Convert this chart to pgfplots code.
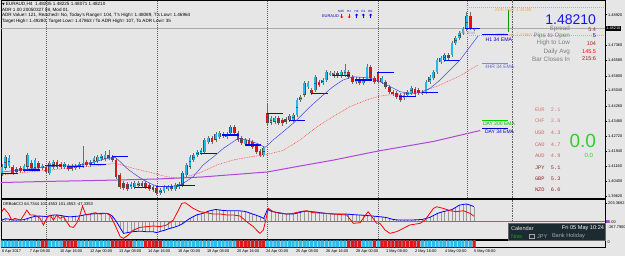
\documentclass[border=0pt]{standalone}
\usepackage{fontspec}
\setmainfont{Liberation Sans}
\newfontfamily\dejavu{DejaVu Sans}
\newfontfamily\monof{Liberation Mono}
\usepackage{pgfplots}
\usepackage{pgfplotstable}
\pgfplotsset{compat=1.18}
\usetikzlibrary{arrows.meta}
\newcommand{\fs}[1]{\fontsize{#1}{#1}\selectfont}
\definecolor{bgc}{RGB}{230,230,230}
\definecolor{bull}{RGB}{30,185,240}
\definecolor{bear}{RGB}{230,20,20}
\definecolor{wick}{RGB}{110,110,110}
\definecolor{emaone}{RGB}{70,70,225}
\definecolor{emafour}{RGB}{255,80,80}
\definecolor{dayema}{RGB}{175,70,215}
\definecolor{dayopen}{RGB}{0,0,255}
\definecolor{adrc}{RGB}{240,170,70}
\definecolor{calbg}{RGB}{28,42,50}
\definecolor{sepc}{RGB}{95,95,95}
\definecolor{lblgray}{RGB}{125,125,125}
\definecolor{rowcyan}{RGB}{40,190,240}
\definecolor{limeg}{RGB}{50,205,50}
\definecolor{hstart}{RGB}{140,160,190}
\definecolor{fourlbl}{RGB}{100,100,230}
\definecolor{fourline}{RGB}{130,130,255}
\definecolor{bigblue}{RGB}{20,20,235}
\definecolor{vspread}{RGB}{160,50,50}
\definecolor{vhl}{RGB}{180,30,30}
\definecolor{vbar}{RGB}{150,30,30}
\definecolor{curA}{RGB}{215,120,120}
\definecolor{curB}{RGB}{205,100,100}
\definecolor{curD}{RGB}{140,40,40}

\pgfplotstableread{
i o h l c
0 1.4083 1.4129 1.4068 1.4114
1 1.4109 1.4175 1.4098 1.4165
2 1.4119 1.4175 1.4109 1.4160
3 1.4114 1.4124 1.4073 1.4083
4 1.4103 1.4114 1.4078 1.4088
5 1.4109 1.4119 1.4083 1.4093
6 1.4098 1.4129 1.4088 1.4119
7 1.4114 1.4185 1.4103 1.4175
8 1.4134 1.4149 1.4098 1.4109
9 1.4109 1.4160 1.4098 1.4149
10 1.4134 1.4144 1.4098 1.4109
11 1.4109 1.4129 1.4098 1.4119
12 1.4114 1.4124 1.4078 1.4088
13 1.4083 1.4144 1.4073 1.4134
14 1.4114 1.4149 1.4103 1.4139
15 1.4139 1.4149 1.4103 1.4114
16 1.4129 1.4139 1.4103 1.4114
17 1.4114 1.4139 1.4103 1.4129
18 1.4119 1.4129 1.4093 1.4103
19 1.4119 1.4129 1.4093 1.4103
20 1.4109 1.4129 1.4098 1.4119
21 1.4114 1.4139 1.4103 1.4129
22 1.4119 1.4221 1.4109 1.4134
23 1.4139 1.4149 1.4114 1.4124
24 1.4124 1.4149 1.4114 1.4139
25 1.4134 1.4170 1.4124 1.4160
26 1.4144 1.4175 1.4134 1.4165
27 1.4155 1.4180 1.4144 1.4170
28 1.4155 1.4195 1.4144 1.4175
29 1.4175 1.4201 1.4149 1.4160
30 1.4165 1.4175 1.4139 1.4149
31 1.4149 1.4160 1.4052 1.4063
32 1.4073 1.4083 1.4001 1.4011
33 1.4032 1.4042 1.3996 1.4006
34 1.4027 1.4037 1.3991 1.4001
35 1.4011 1.4037 1.4001 1.4027
36 1.4011 1.4042 1.4001 1.4032
37 1.4017 1.4042 1.4006 1.4032
38 1.4032 1.4042 1.4006 1.4017
39 1.4032 1.4042 1.4001 1.4011
40 1.4022 1.4032 1.3991 1.4001
41 1.4011 1.4022 1.3986 1.3996
42 1.4006 1.4017 1.3971 1.3981
43 1.3981 1.4006 1.3971 1.3996
44 1.3991 1.4022 1.3981 1.4011
45 1.4001 1.4022 1.3991 1.4011
46 1.4017 1.4027 1.3991 1.4001
47 1.4001 1.4032 1.3991 1.4022
48 1.4011 1.4037 1.4001 1.4027
49 1.4022 1.4093 1.4011 1.4083
50 1.4073 1.4134 1.4063 1.4124
51 1.4114 1.4175 1.4103 1.4165
52 1.4149 1.4185 1.4139 1.4175
53 1.4175 1.4201 1.4165 1.4190
54 1.4185 1.4211 1.4175 1.4201
55 1.4190 1.4262 1.4180 1.4252
56 1.4241 1.4272 1.4231 1.4262
57 1.4262 1.4272 1.4231 1.4241
58 1.4252 1.4292 1.4241 1.4282
59 1.4267 1.4298 1.4257 1.4287
60 1.4282 1.4292 1.4262 1.4272
61 1.4267 1.4292 1.4257 1.4282
62 1.4287 1.4328 1.4277 1.4318
63 1.4318 1.4328 1.4277 1.4287
64 1.4287 1.4298 1.4241 1.4252
65 1.4262 1.4272 1.4226 1.4236
66 1.4231 1.4262 1.4221 1.4252
67 1.4252 1.4262 1.4221 1.4231
68 1.4241 1.4252 1.4206 1.4216
69 1.4221 1.4231 1.4180 1.4190
70 1.4195 1.4206 1.4165 1.4175
71 1.4175 1.4221 1.4165 1.4211
72 1.4390 1.4441 1.4328 1.4339
73 1.4339 1.4374 1.4328 1.4364
74 1.4344 1.4374 1.4333 1.4364
75 1.4364 1.4374 1.4328 1.4339
76 1.4354 1.4364 1.4323 1.4339
77 1.4359 1.4369 1.4333 1.4344
78 1.4354 1.4384 1.4344 1.4374
79 1.4354 1.4390 1.4344 1.4379
80 1.4379 1.4466 1.4369 1.4456
81 1.4456 1.4482 1.4446 1.4471
82 1.4482 1.4553 1.4471 1.4543
83 1.4522 1.4553 1.4512 1.4543
84 1.4507 1.4517 1.4482 1.4492
85 1.4507 1.4584 1.4497 1.4574
86 1.4548 1.4558 1.4522 1.4533
87 1.4543 1.4568 1.4533 1.4558
88 1.4558 1.4609 1.4548 1.4599
89 1.4589 1.4604 1.4579 1.4594
90 1.4579 1.4604 1.4568 1.4594
91 1.4594 1.4604 1.4568 1.4579
92 1.4579 1.4609 1.4568 1.4599
93 1.4584 1.4640 1.4574 1.4609
94 1.4599 1.4609 1.4563 1.4574
95 1.4574 1.4584 1.4538 1.4548
96 1.4548 1.4574 1.4538 1.4563
97 1.4563 1.4574 1.4533 1.4543
98 1.4543 1.4574 1.4533 1.4563
99 1.4563 1.4640 1.4553 1.4625
100 1.4625 1.4635 1.4558 1.4568
101 1.4568 1.4579 1.4538 1.4548
102 1.4594 1.4604 1.4538 1.4548
103 1.4548 1.4579 1.4538 1.4568
104 1.4548 1.4558 1.4512 1.4522
105 1.4522 1.4533 1.4487 1.4497
106 1.4497 1.4507 1.4476 1.4487
107 1.4492 1.4502 1.4461 1.4471
108 1.4482 1.4492 1.4446 1.4456
109 1.4466 1.4492 1.4456 1.4482
110 1.4482 1.4507 1.4471 1.4497
111 1.4492 1.4528 1.4482 1.4517
112 1.4512 1.4522 1.4476 1.4487
113 1.4507 1.4517 1.4482 1.4492
114 1.4492 1.4507 1.4482 1.4497
115 1.4497 1.4558 1.4487 1.4548
116 1.4548 1.4584 1.4538 1.4574
117 1.4568 1.4609 1.4558 1.4599
118 1.4599 1.4671 1.4589 1.4660
119 1.4650 1.4681 1.4640 1.4671
120 1.4660 1.4696 1.4650 1.4686
121 1.4686 1.4696 1.4660 1.4671
122 1.4686 1.4758 1.4676 1.4747
123 1.4747 1.4783 1.4737 1.4773
124 1.4773 1.4809 1.4763 1.4798
125 1.4798 1.4829 1.4788 1.4819
126 1.4819 1.4906 1.4809 1.4885
127 1.4885 1.4906 1.4814 1.4824
128 1.48205 1.48225 1.48071 1.48210
}\candles

\pgfplotstableread{
x y
-0.2 1.4078
4.3 1.4078
nan nan
5.8 1.4098
10.3 1.4098
nan nan
11.8 1.4119
16.3 1.4119
nan nan
17.8 1.4115
22.3 1.4115
nan nan
23.8 1.4127
28.3 1.4127
nan nan
29.8 1.4166
34.3 1.4166
nan nan
35.8 1.4010
40.3 1.4010
nan nan
41.8 1.4013
46.3 1.4013
nan nan
47.8 1.4018
52.3 1.4018
nan nan
53.8 1.4182
58.3 1.4182
nan nan
59.8 1.4277
64.3 1.4277
nan nan
65.8 1.4226
70.3 1.4226
nan nan
71.8 1.4388
76.3 1.4388
nan nan
77.8 1.4349
82.3 1.4349
nan nan
83.8 1.4490
88.3 1.4490
nan nan
89.8 1.4579
94.3 1.4579
nan nan
95.8 1.4558
100.3 1.4558
nan nan
101.8 1.4598
106.3 1.4598
nan nan
107.8 1.4476
112.3 1.4476
nan nan
113.8 1.4493
118.3 1.4493
nan nan
119.8 1.4660
124.3 1.4660
nan nan
125.6 1.4819
129.7 1.4819
}\dayopen

\pgfplotstableread{
i b
0 18
1 32
2 28
3 18
4 18
5 18
6 22
7 35
8 48
9 58
10 61
11 60
12 56
13 64
14 73
15 73
16 68
17 60
18 55
19 55
20 58
21 62
22 70
23 80
24 82
25 86
26 89
27 91
28 91
29 86
30 60
31 5
32 -60
33 -127
34 -120
35 -112
36 -107
37 -104
38 -104
39 -109
40 -109
41 -109
42 -120
43 -105
44 -95
45 -81
46 -68
47 -58
48 -42
49 -22
50 8
51 36
52 57
53 77
54 85
55 98
56 115
57 125
58 133
59 128
60 122
61 120
62 120
63 120
64 120
65 117
66 111
67 98
68 84
69 70
70 55
71 35
72 134
73 115
74 105
75 99
76 92
77 84
78 84
79 84
80 93
81 103
82 114
83 114
84 109
85 106
86 100
87 95
88 91
89 87
90 84
91 84
92 84
93 84
94 81
95 78
96 75
97 73
98 70
99 67
100 64
101 60
102 56
103 52
104 47
105 37
106 25
107 20
108 18
109 18
110 18
111 18
112 20
113 22
114 25
115 35
116 47
117 67
118 88
119 103
120 113
121 122
122 132
123 155
124 180
125 188
126 193
127 180
128 165
}\cciblue

\begin{document}
\begin{tikzpicture}
\begin{scope}[x=1pt,y=1pt]
\fill[bgc] (0,0) rectangle (625,256);
\end{scope}

% ================= main price pane =================
\begin{axis}[at={(1pt,58pt)}, anchor=south west, scale only axis,
  width=604pt, height=198pt,
  xmin=-0.2, xmax=163.5, ymin=1.3955, ymax=1.4967,
  axis line style={black, line width=0.5pt},
  xtick=\empty,
  ytick={1.4892,1.4736,1.4658,1.4580,1.4504,1.4426,1.4348,1.4272,1.4194,1.4116,1.4040,1.3962},
  yticklabels={1.48920,1.47360,1.46580,1.45800,1.45040,1.44260,1.43480,1.42720,1.41940,1.41160,1.40400,1.39620},
  ytick pos=right, yticklabel pos=right, tick align=outside,
  major tick length=2pt, tick style={black, line width=0.4pt},
  yticklabel style={font=\fs{3.9}, inner sep=0.5pt, xshift=0.5pt}]

\addplot[sepc, line width=0.4pt, dash pattern=on 1pt off 1pt] coordinates {(12,1.3955)(12,1.4967)};
\addplot[sepc, line width=0.4pt, dash pattern=on 1pt off 1pt] coordinates {(42,1.3955)(42,1.4967)};
\addplot[sepc, line width=0.4pt, dash pattern=on 1pt off 1pt] coordinates {(72,1.3955)(72,1.4967)};
\addplot[sepc, line width=0.4pt, dash pattern=on 1pt off 1pt] coordinates {(102,1.3955)(102,1.4967)};
\addplot[sepc, line width=0.4pt, dash pattern=on 1pt off 1pt] coordinates {(126.1,1.3955)(126.1,1.4967)};
\addplot[sepc, line width=0.5pt, dash pattern=on 1.5pt off 1pt] coordinates {(138.3,1.3955)(138.3,1.4967)};

\addplot[gray!65, line width=0.5pt] coordinates {(-0.2,1.4821)(163.5,1.4821)};
\addplot[adrc, line width=0.5pt, dash pattern=on 1pt off 1pt] coordinates {(126.1,1.4928)(163.5,1.4928)};
\addplot[adrc, line width=0.5pt, dash pattern=on 1pt off 1pt] coordinates {(126.1,1.47863)(163.5,1.47863)};
\addplot[green!60!black, line width=0.8pt] coordinates {(137.3,1.4916)(137.3,1.4805)};

\addplot[dayema, line width=1pt] coordinates {(-0.2,1.4034)(13,1.4040)(27,1.4045)(42,1.4052)(54,1.4062)(72,1.4088)(81,1.4119)(90,1.4149)(102,1.4195)(117,1.4244)(129.7,1.4300)};
\addplot[emafour, line width=0.6pt, dash pattern=on 0.8pt off 0.9pt] coordinates {(0,1.4073)(4.1,1.4081)(8.5,1.4090)(13.1,1.4098)(17.6,1.4107)(22,1.4115)(26.6,1.4121)(30.7,1.4133)(35.6,1.4107)(40.2,1.4086)(44.7,1.4064)(48.3,1.4056)(53.7,1.4083)(58.3,1.4124)(62.7,1.4149)(67.3,1.4165)(71.8,1.4177)(76.2,1.4198)(80.9,1.4252)(85.4,1.4318)(89.8,1.4371)(94.4,1.4422)(98.9,1.4456)(102.5,1.4476)(106.1,1.4484)(109.8,1.4489)(113.4,1.4493)(118.8,1.4533)(124.2,1.4579)(129.1,1.4635)};

\addplot[draw=none, mark=none, error bars/.cd, y dir=both, y explicit, error mark=none,
  error bar style={draw=wick, line width=0.45pt}]
  table[x=i, y expr={0.5*(\thisrow{h}+\thisrow{l})}, y error expr={0.5*(\thisrow{h}-\thisrow{l})}] {\candles};
\addplot[draw=none, mark=none, error bars/.cd, y dir=both, y explicit, error mark=none,
  error bar style={draw=black!70, line width=2.7pt}]
  table[x=i, y expr={0.5*(\thisrow{o}+\thisrow{c})}, y error expr={0.5*abs(\thisrow{c}-\thisrow{o})+0.00005}] {\candles};
\addplot[draw=none, mark=none, error bars/.cd, y dir=both, y explicit, error mark=none,
  error bar style={draw=bull, line width=1.9pt, shorten <=0.4pt, shorten >=0.4pt}]
  table[x=i, y expr={\thisrow{c}>=\thisrow{o} ? 0.5*(\thisrow{o}+\thisrow{c}) : nan}, y error expr={0.5*abs(\thisrow{c}-\thisrow{o})}] {\candles};
\addplot[draw=none, mark=none, error bars/.cd, y dir=both, y explicit, error mark=none,
  error bar style={draw=bear, line width=1.9pt, shorten <=0.4pt, shorten >=0.4pt}]
  table[x=i, y expr={\thisrow{c}<\thisrow{o} ? 0.5*(\thisrow{o}+\thisrow{c}) : nan}, y error expr={0.5*abs(\thisrow{c}-\thisrow{o})}] {\candles};

\addplot[dayopen, line width=1.1pt, unbounded coords=jump] table[x=x, y=y] {\dayopen};
\addplot[emaone, line width=0.5pt] coordinates {(0,1.4088)(5,1.4098)(10,1.4109)(15,1.4119)(20,1.4119)(25,1.4139)(28,1.4155)(30.7,1.4163)(32.1,1.4141)(33.9,1.4107)(35.7,1.4081)(38.4,1.4047)(41.1,1.4022)(42.9,1.4013)(44.7,1.4013)(47.4,1.4017)(49.2,1.4030)(51.9,1.4064)(54.6,1.4124)(57.4,1.4166)(60.1,1.4209)(62.8,1.4243)(64.1,1.4260)(66.4,1.4252)(69.1,1.4235)(71.4,1.4214)(73.6,1.4252)(76.3,1.4294)(79,1.4337)(80.9,1.4371)(83.6,1.4422)(86.3,1.4468)(89.8,1.4524)(92.5,1.4558)(95.2,1.4575)(99.8,1.4568)(102.5,1.4550)(105.3,1.4524)(108,1.4498)(110.7,1.4490)(113.4,1.4493)(116.1,1.4516)(118.8,1.4558)(121.5,1.4609)(124.2,1.4660)(126.9,1.4728)(129.1,1.4783)};
\end{axis}

% ================= CCI pane =================
\begin{axis}[at={(1pt,16.5pt)}, anchor=south west, scale only axis,
  width=604pt, height=40pt,
  xmin=-0.2, xmax=163.5, ymin=-194, ymax=242,
  axis line style={black, line width=0.5pt},
  xtick=\empty, ytick={0,203.3682}, yticklabels={0.00,203.3682},
  ytick pos=right, yticklabel pos=right, tick align=outside,
  major tick length=2pt, tick style={black, line width=0.4pt},
  yticklabel style={font=\fs{3.9}, inner sep=0.5pt, xshift=0.5pt}]
\addplot[sepc, line width=0.4pt, dash pattern=on 1pt off 1pt] coordinates {(12,-194)(12,242)};
\addplot[sepc, line width=0.4pt, dash pattern=on 1pt off 1pt] coordinates {(42,-194)(42,242)};
\addplot[sepc, line width=0.4pt, dash pattern=on 1pt off 1pt] coordinates {(72,-194)(72,242)};
\addplot[sepc, line width=0.4pt, dash pattern=on 1pt off 1pt] coordinates {(102,-194)(102,242)};
\addplot[sepc, line width=0.5pt, dash pattern=on 1.5pt off 1pt] coordinates {(138.3,-194)(138.3,242)};
\addplot[gray!80, line width=0.35pt, ycomb, mark=none] table[x=i, y=b] {\cciblue};
\addplot[dayema, line width=0.6pt] coordinates {(-0.2,0)(163.5,0)};
\addplot[blue, line width=0.8pt] table[x=i, y=b] {\cciblue};
\addplot[red, line width=0.8pt] coordinates {(0,109)(0.6,145)(1.8,91)(2.7,18)(3.6,36)(4.5,25)(5.1,18)(6.3,91)(6.8,127)(7.7,73)(8.6,73)(9.5,62)(10.4,36)(11.3,-36)(12.2,36)(13.1,73)(14,18)(14.9,73)(15.8,36)(16.7,55)(17.6,0)(18.5,-54)(19.4,-62)(20.3,-18)(21.2,73)(21.9,171)(22.8,73)(23.9,84)(25.3,98)(26.6,84)(28.4,91)(29.3,73)(30.7,-36)(32.1,-163)(33,-182)(34.3,-145)(35.7,-91)(37.5,-62)(39.3,-54)(41.1,-47)(42.9,-54)(44.7,-36)(46.5,18)(47.9,127)(48.8,200)(49.7,207)(50.6,182)(51.9,145)(53.7,109)(55.5,98)(57.3,84)(59.2,84)(61,73)(62.8,73)(64.6,62)(66.4,0)(68.2,-54)(69.5,-109)(70,-127)(70.9,-91)(71.35,-18)(72.25,145)(73.6,109)(75.4,91)(77.2,84)(79,91)(80.8,109)(82.6,120)(84.4,98)(86.2,95)(89.9,84)(93.5,73)(95.3,-18)(97.1,-11)(99.3,109)(100.3,55)(101.6,-18)(102.5,-18)(103.9,-91)(105.2,-127)(107,-109)(108.8,-73)(110.6,-36)(113.4,-18)(114.7,18)(117,145)(117.9,163)(119.7,145)(121.5,120)(123.3,109)(125.1,120)(126.9,91)(128,60)};
\end{axis}

% ================= colour bar row =================
\begin{axis}[at={(1pt,8.5pt)}, anchor=south west, scale only axis,
  width=604pt, height=7pt,
  xmin=-0.2, xmax=163.5, ymin=0, ymax=1,
  axis line style={black, line width=0.5pt},
  xtick=\empty, ytick=\empty]
\addplot[ybar, bar width=3pt, bar shift=0pt, fill=rowcyan, draw=none] table[x=i, y expr=1] {\candles};
\addplot[ybar, bar width=3pt, bar shift=0pt, fill=bear, draw=none] coordinates {(11,1)(12,1)(17,1)(18,1)(19,1)(20,1)(30,1)(31,1)(32,1)(33,1)(34,1)(35,1)(39,1)(40,1)(41,1)(42,1)(43,1)(64,1)(65,1)(66,1)(67,1)(68,1)(69,1)(70,1)(71,1)(94,1)(95,1)(96,1)(97,1)(101,1)(103,1)(104,1)(105,1)(106,1)(107,1)(108,1)(109,1)(110,1)(111,1)(112,1)(113,1)(128,1)};
\end{axis}

% ================= texts =================
\begin{scope}[x=1pt, y=1pt, every node/.style={inner sep=0pt, outer sep=0pt}]
\node[anchor=west, font=\fs{4.6}] at (2,252.2) {{\dejavu\fs{3.4}▼} EURAUD,H4\ \ 1.48205 1.48225 1.48071 1.48210};
\node[anchor=west, font=\fs{4.6}] at (2,246.2) {ADR 1.00 20050327 08, Mod 01.};
\node[anchor=west, font=\fs{4.6}] at (2,240.2) {ADR Value= 121, Reached= No, Today's Range= 104, T's High= 1.48089, T's Low= 1.46964};
\node[anchor=west, font=\fs{4.6}] at (2,234.2) {Target High= 1.49280, Target Low= 1.47863 / To ADR High= 107, To ADR Low= 35};

\node[anchor=west, font=\fs{4}, text=blue!80!black] at (322,239.5) {EURAUD};
\foreach \xx/\tt in {341.2/M15,349.2/H1,356.7/H4,363.3/D1,370.5/W1}
  \node[font=\fs{3.1}, text=blue!70!black] at (\xx,245) {\tt};
\foreach \xx in {341.7,349.3}
  \draw[red, line width=0.9pt, -{Triangle[length=1.6pt,width=3pt]}] (\xx,242.3) -- (\xx,237.8);
\foreach \xx in {356.7,363.3,370.7}
  \draw[blue, line width=0.9pt, -{Triangle[length=1.6pt,width=3pt]}] (\xx,237.8) -- (\xx,242.3);

\node[anchor=west, font=\fs{4.2}, text=adrc] at (495,245.3) {ADR High: 1.49280};
\node[anchor=west, font=\fs{4.2}, text=adrc] at (496,221.4) {ADR Low: 1.47863};
\node[anchor=west, font=\fs{4.2}, text=hstart] at (460,223) {H1 Start};

\draw[dayopen, line width=1pt] (482,221.7) -- (508,221.7);
\node[anchor=west, font=\fs{5.2}, text=blue!85!black] at (485.5,216.6) {H1 34 EMA};
\draw[fourline, line width=1pt] (482,192.7) -- (508,192.7);
\node[anchor=west, font=\fs{5}, text=fourlbl] at (485,189.3) {4HR 34 EMA};
\draw[green!80!black, line width=1pt] (482,135.3) -- (508,135.3);
\node[anchor=west, font=\fs{5}, text=green!75!black] at (483,132.7) {DAY 200 EMA};
\draw[blue!80!black, line width=1pt] (482,127.7) -- (508,127.7);
\node[anchor=west, font=\fs{5}, text=blue!75!black] at (485,124.3) {DAY 34 EMA};

\node[anchor=east, font=\fs{14}, text=bigblue] at (596,236.5) {1.48210};
\foreach \yy/\ll in {226.7/Spread,220/Pips to Open,212.7/High to Low,204.3/Daily Avg,197/Bar Closes In}
  \node[anchor=east, font=\fs{6.3}, text=lblgray] at (570,\yy) {\ll};
\node[anchor=east, font=\fs{5.5}, text=vspread] at (596,226.7) {5.4};
\node[anchor=east, font=\fs{5.5}, text=blue] at (596,220) {5};
\node[anchor=east, font=\fs{5.5}, text=vhl] at (596,212.7) {104};
\node[anchor=east, font=\fs{5.5}, text=red] at (596,204.3) {145.5};
\node[anchor=east, font=\fs{5.5}, text=vbar] at (596,197) {215:6};

\foreach \yy/\cc/\vv/\col in {146/EUR/2.1/curA, 135/CHF/3.6/curA, 123.7/USD/4.3/curB, 111.7/CAD/4.7/curB, 100/AUD/4.9/curB, 88.3/JPY/5.1/curD, 77.7/GBP/5.3/curD, 66.7/NZD/6.0/curD}
  \node[anchor=west, font=\monof\fs{5.3}, text=\col] at (535,\yy) {\cc\ \ \vv};
\node[anchor=east, font=\fs{19}, text=limeg] at (596,115) {0.0};
\node[anchor=east, font=\fs{6}, text=limeg] at (593,101) {0.0};

\node[anchor=west, fill=black, text=white, font=\fs{3.9}, inner xsep=0.8pt, inner ysep=0.8pt] at (605.5,227.4) {1.48210};

\node[anchor=west, font=\fs{4.1}] at (3,52) {DRBobCCI 64.7344 101.4553 101.4553 -47.3353};
\fill[dayema] (605.5,32.6) rectangle (609,36);
\node[anchor=west, font=\fs{3.9}] at (608,28.7) {-267.7900};
\node[anchor=west, font=\fs{3.9}] at (607.5,13.8) {0};

\fill[calbg] (508,15.3) rectangle (605,32.7);
\draw[black!60, line width=0.4pt] (508,15.3) rectangle (605,32.7);
\node[anchor=west, font=\fs{5.6}, text=gray!20] at (511,27.7) {Calendar};
\node[anchor=east, font=\fs{5.6}, text=white] at (604,27.7) {Fri 05 May 10:24};
\node[anchor=west, font=\fs{5.6}, text=green!70!black] at (511,19.5) {Now};
\draw[gray!70, line width=0.4pt] (529.5,17.5) rectangle (534.5,21.8);
\node[anchor=west, font=\fs{5.6}, text=gray!70] at (537,19.5) {JPY};
\node[anchor=west, font=\fs{5.6}, text=gray!70] at (552,19.5) {Bank Holiday};

\foreach \xx/\dd in {2/6 Apr 2017,30/7 Apr 08:00,60/10 Apr 16:00,90/12 Apr 00:00,119/13 Apr 08:00,148/14 Apr 16:00,178/18 Apr 00:00,207/19 Apr 08:00,237/20 Apr 16:00,266/24 Apr 00:00,296/25 Apr 08:00,326/26 Apr 16:00,356/28 Apr 00:00,386/1 May 08:00,415/2 May 16:00,445/4 May 00:00,474/5 May 08:00}
  \node[anchor=west, font=\fs{3.9}] at (\xx,4.7) {\dd};
\end{scope}

\pgfresetboundingbox
\path[use as bounding box] (0pt,0pt) rectangle (625pt,256pt);
\end{tikzpicture}
\end{document}
